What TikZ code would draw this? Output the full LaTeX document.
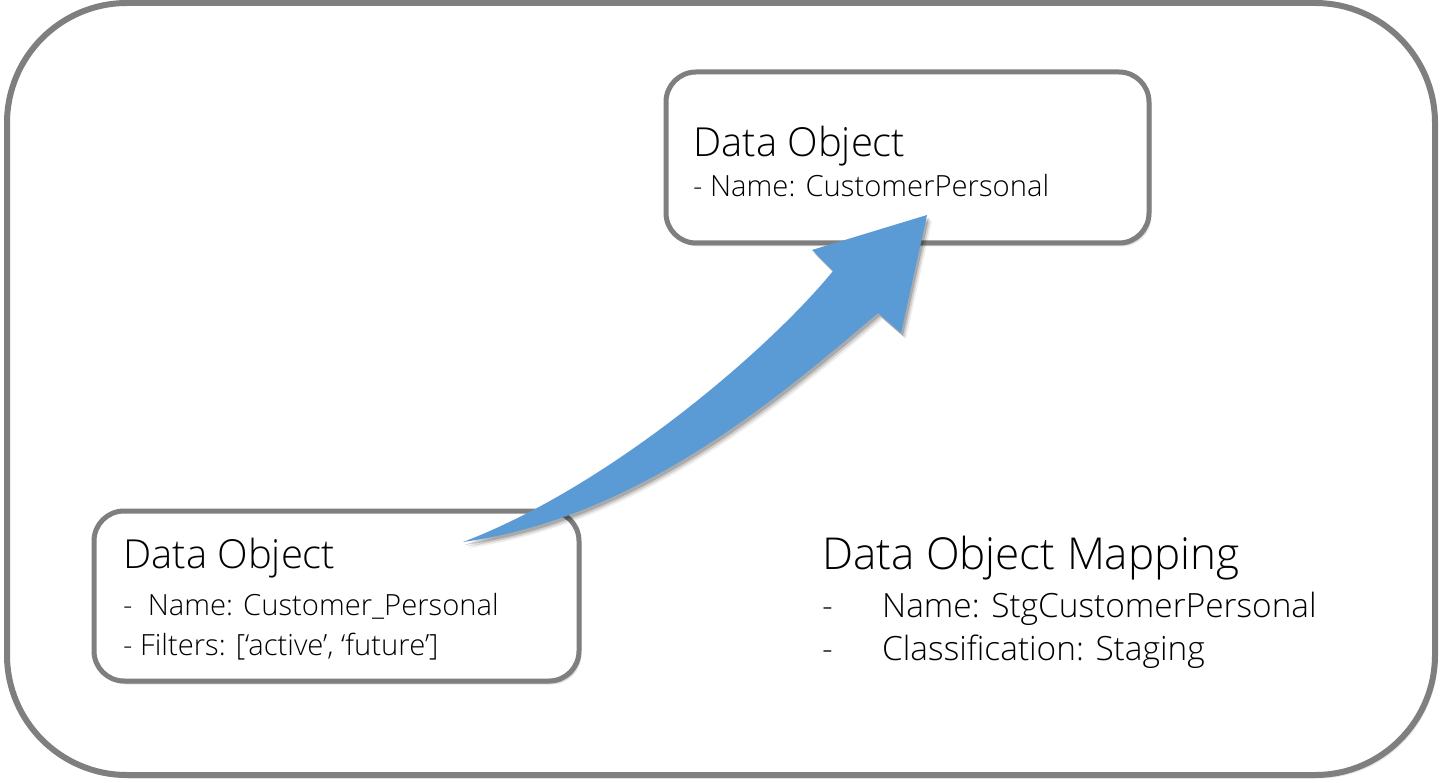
\documentclass[tikz,border=0pt]{standalone}
\usepackage{fontspec}
\setmainfont{Open Sans}[UprightFont = * Light]
\usetikzlibrary{shadows}
\definecolor{frameGray}{HTML}{7F7F7F}
\definecolor{arrowBlue}{HTML}{5B9BD5}
\begin{document}
\begin{tikzpicture}[x=1pt,y=-1pt,
  softshadow/.style={drop shadow={shadow xshift=1.5pt,shadow yshift=-2.5pt,opacity=0.18,fill=black},
                     drop shadow={shadow xshift=2.5pt,shadow yshift=-3.5pt,opacity=0.1,fill=black}},
  arrowshadow/.style={drop shadow={shadow xshift=2pt,shadow yshift=-3pt,opacity=0.18,fill=black},
                      drop shadow={shadow xshift=3.5pt,shadow yshift=-4.5pt,opacity=0.12,fill=black},
                      drop shadow={shadow xshift=5pt,shadow yshift=-6pt,opacity=0.07,fill=black}},
  objbox/.style={draw=frameGray, line width=5pt, rounded corners=30pt, fill=white, inner sep=0pt, softshadow},
  titletext/.style={anchor=base west, inner sep=0pt, font=\fontsize{40pt}{48pt}\selectfont},
  bigtitletext/.style={anchor=base west, inner sep=0pt, font=\fontsize{44pt}{52pt}\selectfont},
  subtext/.style={anchor=base west, inner sep=0pt, font=\fontsize{29.2pt}{35pt}\selectfont},
  maptext/.style={anchor=base west, inner sep=0pt, font=\fontsize{33.4pt}{40pt}\selectfont}]
\useasboundingbox (0,0) rectangle (1443,783);
% outer frame
\node[draw=frameGray, line width=6pt, rounded corners=120pt, fill=white, inner sep=0pt,
      minimum width=1428pt, minimum height=772pt, softshadow] (frame) at (721,389) {};
% top object box
\node[objbox, minimum width=483pt, minimum height=171pt] (target) at (907.5,157.5) {};
\node[titletext] (targetTitle) at (693,157) {Data Object};
\node[subtext] (targetName) at (693,197) {- Name: CustomerPersonal};
% bottom object box
\node[objbox, minimum width=485pt, minimum height=170pt] (source) at (336.5,596) {};
\node[titletext] (sourceTitle) at (123,568) {Data Object};
\node[subtext] (sourceName) at (123,615) {-~ Name: Customer\_Personal};
\node[subtext] (sourceFilter) at (123,655) {- Filters: [‘active’, ‘future’]};
% mapping text
\node[bigtitletext] (mapTitle) at (822,569) {Data Object Mapping};
\node[maptext] (mapName) at (822,617) {\hbox to 60pt{-\hfil}Name: StgCustomerPersonal};
\node[maptext] (mapClass) at (822,660) {\hbox to 60pt{-\hfil}Classification: Staging};
% curved block arrow from source to target
\fill[arrowBlue, arrowshadow]
  (463,542) .. controls (613,485) and (773,345) .. (833,271)
  -- (812,250) -- (927,215) -- (901,333) -- (878,313)
  .. controls (788,389) and (643,517) .. (463,542) -- cycle;
\end{tikzpicture}
\end{document}
